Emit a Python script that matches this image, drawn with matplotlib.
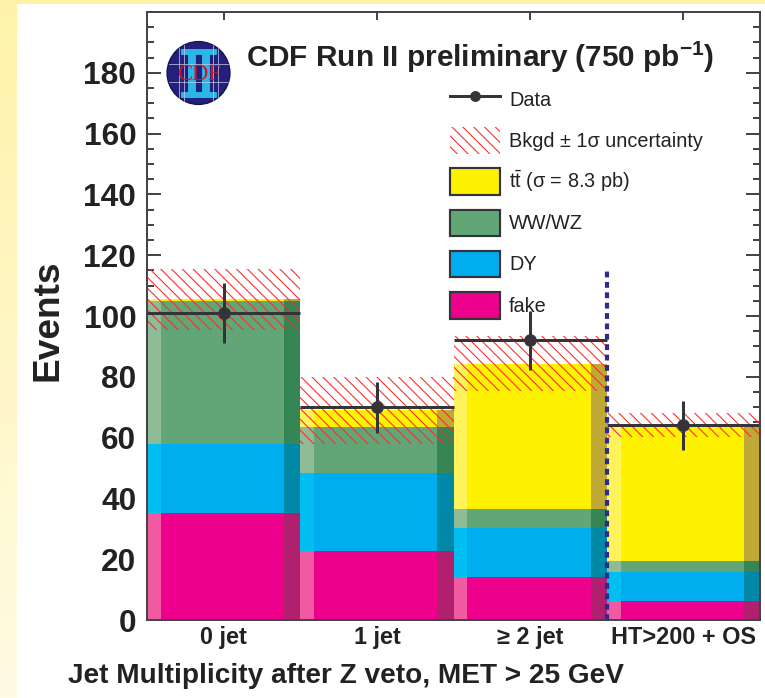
import numpy as np
import matplotlib
matplotlib.use("Agg")
import matplotlib.pyplot as plt
from matplotlib.patches import Patch, Circle, Rectangle
from matplotlib.lines import Line2D
from matplotlib.ticker import MultipleLocator, FixedLocator

# ---- data -------------------------------------------------------------
categories = ["0 jet", "1 jet", "\u2265 2 jet", "HT>200 + OS"]
fake = [35.2, 22.6, 14.2, 6.3]
dy = [22.8, 25.8, 16.2, 9.6]
ww = [46.9, 15.1, 6.2, 3.5]
ttbar = [0.6, 5.5, 47.7, 44.7]
bkg_unc = [10.0, 11.0, 9.0, 4.0]
data = [101.0, 70.0, 92.0, 64.0]
data_err = [10.0, 8.4, 9.6, 8.0]
y_ticks = [0, 20, 40, 60, 80, 100, 120, 140, 160, 180]
divider_top = 115.0

# ---- style ------------------------------------------------------------
DPI = 65
plt.rcParams["font.family"] = ["Liberation Sans", "DejaVu Sans"]
plt.rcParams["mathtext.fontset"] = "custom"
plt.rcParams["mathtext.rm"] = "Liberation Sans:bold"
plt.rcParams["mathtext.sf"] = "Liberation Sans"
plt.rcParams["hatch.linewidth"] = 1.2

dark = "#333338"
hatch_red = "#ff2a2a"
# (main, lit left edge, shaded right edge)
comp_colors = [
    ("#ec008c", "#f05aa0", "#b0206e"),   # fake
    ("#00aeef", "#00bdf2", "#0088a6"),   # DY
    ("#62a678", "#8fbb96", "#358555"),   # WW/WZ
    ("#fff200", "#fff35c", "#bfa833"),   # ttbar
]

fig = plt.figure(figsize=(765 / DPI, 698 / DPI), dpi=DPI, facecolor="white")

# pale yellow frame strips
grad = np.linspace(0, 1, 256).reshape(-1, 1)
top_c = np.array([255, 242, 168]) / 255
bot_c = np.array([255, 251, 228]) / 255
img = top_c[None, None, :] * (1 - grad[:, :, None]) + bot_c[None, None, :] * grad[:, :, None]
bax = fig.add_axes([0, 0, 17 / 765, 1])
bax.imshow(img, aspect="auto", extent=[0, 1, 0, 1])
bax.axis("off")
tax = fig.add_axes([0, 1 - 4 / 698, 1, 4 / 698])
tax.imshow(np.tile(top_c, (2, 2, 1)), aspect="auto")
tax.axis("off")

ax = fig.add_axes([147 / 765, 1 - 620 / 698, 613 / 765, 608 / 698])
ax.set_facecolor("white")

edges = np.arange(len(categories), dtype=float)
bottom = np.zeros(len(categories))
for vals, (c, cl, cr) in zip([fake, dy, ww, ttbar], comp_colors):
    v = np.asarray(vals)
    ax.bar(edges, v, width=1.0, bottom=bottom, align="edge", color=c, lw=0, zorder=2)
    ax.bar(edges, v, width=0.09, bottom=bottom, align="edge", color=cl, lw=0, zorder=2)
    ax.bar(edges + 0.895, v, width=0.105, bottom=bottom, align="edge", color=cr, lw=0, zorder=2)
    bottom += v

total = bottom
unc = np.asarray(bkg_unc)
ax.bar(edges, 2 * unc, bottom=total - unc, width=1.0, align="edge", fill=False,
       hatch="\\\\", edgecolor=hatch_red, lw=0, zorder=3)

ax.hlines(data, edges, edges + 1, colors=dark, lw=3.3, zorder=5)
ax.errorbar(edges + 0.5, data, yerr=data_err, fmt="o", color=dark, ms=13,
            elinewidth=3.3, capsize=0, zorder=6)

ax.vlines(3, 0, divider_top, colors="#2b2b92", lw=4.6,
          linestyles=(0, (1.4, 1.1)), zorder=7)

ax.set_xlim(0, 4)
ax.set_ylim(0, 200)

for sp in ax.spines.values():
    sp.set_linewidth(2.2)
    sp.set_color("#444448")
    sp.set_zorder(8)

ax.yaxis.set_major_locator(FixedLocator(y_ticks))
ax.yaxis.set_minor_locator(MultipleLocator(5))
ax.set_yticklabels([str(t) for t in y_ticks], fontsize=35, fontweight="bold", color="#222")
ax.tick_params(axis="y", which="both", direction="in", left=True, right=True,
               color="#444448", width=2.2, pad=12)
ax.tick_params(axis="y", which="major", length=15)
ax.tick_params(axis="y", which="minor", length=8)

ax.set_xticks(edges + 0.5)
ax.set_xticklabels(categories, fontsize=26, fontweight="bold", color="#222")
ax.tick_params(axis="x", which="major", direction="in", top=True, bottom=True,
               length=9, width=2.2, color="#444448", pad=7)

ax.set_ylabel("Events", fontsize=41, fontweight="bold", color="#222", va="center", ha="center")
ax.yaxis.set_label_coords(-0.1615, 0.493)
ax.set_xlabel("Jet Multiplicity after Z veto, MET > 25 GeV", fontsize=31,
              fontweight="bold", color="#222", va="center", ha="center")
ax.xaxis.set_label_coords(0.3246, -0.092)

ax.text(0.543, 0.926, r"CDF Run II preliminary (750 pb$^{-1}$)", transform=ax.transAxes,
        ha="center", va="center", fontsize=33, fontweight="bold", color="#222", zorder=9)

handles = [
    Line2D([], [], color=dark, marker="o", ms=11, lw=3.3),
    Patch(fill=False, hatch="\\\\", edgecolor=hatch_red, lw=0),
    Patch(facecolor=comp_colors[3][0], edgecolor=dark, lw=2.4),
    Patch(facecolor=comp_colors[2][0], edgecolor=dark, lw=2.4),
    Patch(facecolor=comp_colors[1][0], edgecolor=dark, lw=2.4),
    Patch(facecolor=comp_colors[0][0], edgecolor=dark, lw=2.4),
]
labels = ["Data", "Bkgd \u00b1 1\u03c3 uncertainty",
          "$\\mathsf{t\\bar{t}}$ (\u03c3 = 8.3 pb)", "WW/WZ", "DY", "fake"]
leg = ax.legend(handles, labels, loc="upper left", bbox_to_anchor=(0.4943, 0.878),
                frameon=False, fontsize=22, borderpad=0, borderaxespad=0,
                handlelength=2.5, handleheight=1.7, handletextpad=0.48,
                labelspacing=0.72)
for t in leg.get_texts():
    t.set_color("#222")
leg.set_zorder(9)

# CDF emblem
lax = fig.add_axes([(198.5 - 33) / 765, 1 - (73 + 33) / 698, 66 / 765, 66 / 698])
lax.set_xlim(-1.05, 1.05)
lax.set_ylim(-1.05, 1.05)
lax.set_aspect("equal")
lax.axis("off")
lax.add_patch(Circle((0, 0), 1.0, facecolor="#22207a", edgecolor="#15134f", lw=1.5))
for xv in (-0.62, -0.45, 0.45, 0.62):
    h = np.sqrt(1 - xv ** 2)
    lax.plot([xv, xv], [-h, h], color="#c8c8e8", lw=0.8)
for yv in (-0.3, 0.3):
    w = np.sqrt(1 - yv ** 2)
    lax.plot([-w, w], [yv, yv], color="#c8c8e8", lw=0.8)
for xc in (-0.22, 0.22):
    lax.add_patch(Rectangle((xc - 0.1, -0.75), 0.2, 1.5, color="#2ab7e8"))
lax.add_patch(Rectangle((-0.55, 0.6), 1.1, 0.15, color="#2ab7e8"))
lax.add_patch(Rectangle((-0.55, -0.75), 1.1, 0.15, color="#2ab7e8"))
lax.text(0, -0.04, "CDF", ha="center", va="center", color="#d0142a",
         fontsize=25, family="Liberation Serif")

fig.savefig("out.png", dpi=DPI, facecolor="white")
